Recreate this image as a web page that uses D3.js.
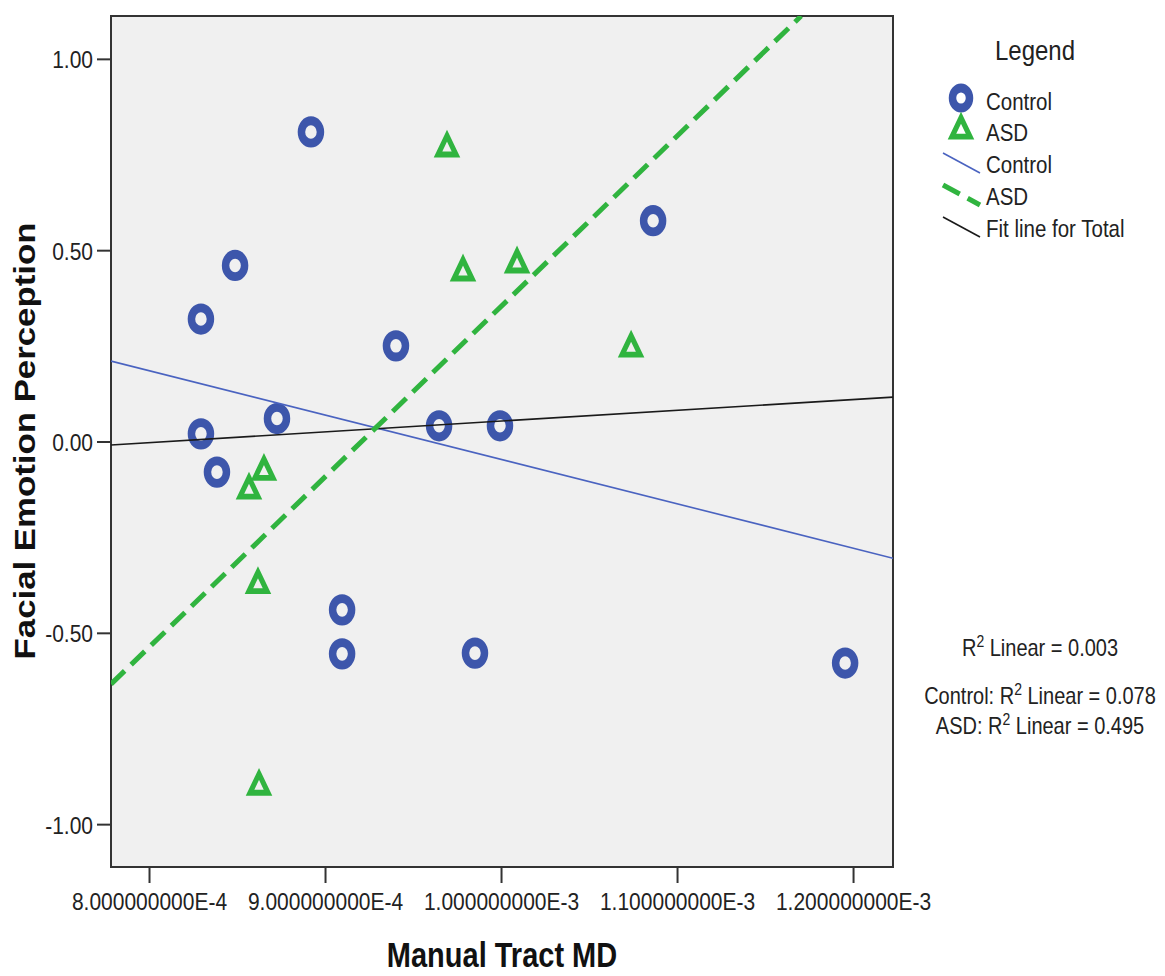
<!DOCTYPE html>
<html lang="en">
  <head>
    <meta charset="UTF-8" />
    <title>Facial Emotion Perception vs Manual Tract MD</title>
    <script src="https://d3js.org/d3.v7.min.js"></script>
    <style>
      body {
        margin: 0;
        background: #fff;
      }
      svg {
        display: block;
        font-family: "Liberation Sans", Arial, sans-serif;
      }
      .tick line {
        stroke: #333;
        stroke-width: 2px;
      }
    </style>
  </head>
  <body>
    <svg width="1165" height="976"></svg>
    <script>
      // Control group (blue circles)
      const controlMD = [
        8.92e-4, 8.489e-4, 8.295e-4, 8.295e-4, 8.727e-4, 8.386e-4, 9.403e-4,
        9.648e-4, 9.994e-4, 10.864e-4, 9.097e-4, 9.097e-4, 9.852e-4, 11.955e-4,
      ];
      const controlFEP = [
        0.809, 0.46, 0.32, 0.02, 0.06, -0.08, 0.25, 0.041, 0.041, 0.577,
        -0.44, -0.555, -0.553, -0.579,
      ];

      // ASD group (green triangles)
      const asdMD = [
        9.693e-4, 9.784e-4, 10.091e-4, 10.739e-4, 8.568e-4, 8.653e-4,
        8.619e-4, 8.625e-4,
      ];
      const asdFEP = [0.77, 0.446, 0.467, 0.247, -0.124, -0.075, -0.371, -0.898];

      // fit lines, two end points each (MD, FEP)
      const fitControl = [
        [7.784e-4, 0.21],
        [12.227e-4, -0.305],
      ];
      const fitASD = [
        [7.784e-4, -0.634],
        [11.705e-4, 1.112],
      ];
      const fitTotal = [
        [7.784e-4, -0.009],
        [12.227e-4, 0.116],
      ];

      const xTicks = [8e-4, 9e-4, 10e-4, 11e-4, 12e-4];
      const xTickLabels = [
        "8.000000000E-4",
        "9.000000000E-4",
        "1.000000000E-3",
        "1.100000000E-3",
        "1.200000000E-3",
      ];
      const yTicks = [-1, -0.5, 0, 0.5, 1];
      const yTickLabels = ["-1.00", "-0.50", "0.00", "0.50", "1.00"];

      const legendItems = ["Control", "ASD", "Control", "ASD", "Fit line for Total"];

      const blue = "#3d56ab";
      const green = "#30b43f";
      const stretch = 1.18; // the source picture is stretched vertically

      const plot = { left: 111, right: 893, top: 16, bottom: 867 };

      const svg = d3.select("svg");

      const x = d3
        .scaleLinear()
        .domain([7.784e-4, 12.227e-4])
        .range([plot.left, plot.right]);

      const y = d3
        .scaleLinear()
        .domain([-1.112, 1.112])
        .range([plot.bottom, plot.top]);

      // plot background + frame
      svg
        .append("rect")
        .attr("x", plot.left)
        .attr("y", plot.top)
        .attr("width", plot.right - plot.left)
        .attr("height", plot.bottom - plot.top)
        .attr("fill", "#f0f0f0")
        .attr("stroke", "#333")
        .attr("stroke-width", 2);

      svg
        .append("defs")
        .append("clipPath")
        .attr("id", "clip")
        .append("rect")
        .attr("x", plot.left)
        .attr("y", plot.top)
        .attr("width", plot.right - plot.left)
        .attr("height", plot.bottom - plot.top);

      // Y axis
      const yAxis = svg
        .append("g")
        .attr("transform", `translate(${plot.left},0)`)
        .call(
          d3
            .axisLeft(y)
            .tickValues(yTicks)
            .tickFormat((d, i) => yTickLabels[i])
            .tickSize(14)
        );
      yAxis.select(".domain").remove();
      yAxis
        .selectAll("text")
        .attr("x", -18)
        .attr("dy", "0.36em")
        .attr("transform", `scale(1,${stretch})`)
        .attr("fill", "#222")
        .style("font-size", "21px");

      // X axis
      const xAxis = svg
        .append("g")
        .attr("transform", `translate(0,${plot.bottom})`)
        .call(
          d3
            .axisBottom(x)
            .tickValues(xTicks)
            .tickFormat((d, i) => xTickLabels[i])
            .tickSize(16)
        );
      xAxis.select(".domain").remove();
      xAxis
        .selectAll("text")
        .attr("y", 43 / stretch)
        .attr("dy", 0)
        .attr("transform", `scale(1,${stretch})`)
        .attr("fill", "#222")
        .style("font-size", "21px");

      // axis titles
      svg
        .append("text")
        .attr("transform", `translate(502,967) scale(1,${stretch})`)
        .attr("text-anchor", "middle")
        .style("font-size", "29px")
        .style("font-weight", "bold")
        .attr("fill", "#111")
        .text("Manual Tract MD");

      svg
        .append("text")
        .attr("transform", `translate(35,441) rotate(-90) scale(${stretch},1)`)
        .attr("text-anchor", "middle")
        .style("font-size", "29.5px")
        .style("font-weight", "bold")
        .attr("fill", "#111")
        .text("Facial Emotion Perception");

      const trianglePath = "M0,-9.5L9,6.5L-9,6.5Z";

      // markers
      svg
        .append("g")
        .selectAll("g")
        .data(controlMD.map((d, i) => [d, controlFEP[i]]))
        .join("g")
        .attr("transform", (d) => `translate(${x(d[0])},${y(d[1])}) scale(1,${stretch})`)
        .append("circle")
        .attr("r", 9.5)
        .attr("fill", "none")
        .attr("stroke", blue)
        .attr("stroke-width", 7.5);

      svg
        .append("g")
        .selectAll("g")
        .data(asdMD.map((d, i) => [d, asdFEP[i]]))
        .join("g")
        .attr("transform", (d) => `translate(${x(d[0])},${y(d[1])}) scale(1,${stretch})`)
        .append("path")
        .attr("d", trianglePath)
        .attr("fill", "none")
        .attr("stroke", green)
        .attr("stroke-width", 5);

      // fit lines
      const line = d3
        .line()
        .x((d) => x(d[0]))
        .y((d) => y(d[1]));

      const lines = svg.append("g").attr("clip-path", "url(#clip)");
      lines
        .append("path")
        .attr("d", line(fitControl))
        .attr("fill", "none")
        .attr("stroke", "#4a63c0")
        .attr("stroke-width", 1.6);
      lines
        .append("path")
        .attr("d", line(fitTotal))
        .attr("fill", "none")
        .attr("stroke", "#1a1a1a")
        .attr("stroke-width", 1.6);
      lines
        .append("path")
        .attr("d", line(fitASD))
        .attr("fill", "none")
        .attr("stroke", green)
        .attr("stroke-width", 5)
        .attr("stroke-dasharray", "19,9");

      // legend
      const legend = svg.append("g");
      legend
        .append("text")
        .attr("transform", `translate(1035,60) scale(1,${stretch})`)
        .attr("text-anchor", "middle")
        .style("font-size", "24px")
        .attr("fill", "#222")
        .text("Legend");

      const rowY = [110, 141, 173, 205, 237];
      legend
        .selectAll(".legend-label")
        .data(legendItems)
        .join("text")
        .attr("class", "legend-label")
        .attr("transform", (d, i) => `translate(986,${rowY[i]}) scale(1,${stretch})`)
        .style("font-size", "20.5px")
        .attr("fill", "#222")
        .text((d) => d);

      legend
        .append("g")
        .attr("transform", `translate(961,98) scale(1,${stretch})`)
        .append("circle")
        .attr("r", 8.5)
        .attr("fill", "none")
        .attr("stroke", blue)
        .attr("stroke-width", 7.5);
      legend
        .append("g")
        .attr("transform", `translate(961,129) scale(1,${stretch})`)
        .append("path")
        .attr("d", trianglePath)
        .attr("fill", "none")
        .attr("stroke", green)
        .attr("stroke-width", 5);

      const legendLines = [
        { color: "#4a63c0", width: 1.6, dash: null },
        { color: green, width: 5, dash: "19,9" },
        { color: "#1a1a1a", width: 1.6, dash: null },
      ];
      legendLines.forEach((s, i) => {
        const yy = rowY[i + 2];
        legend
          .append("line")
          .attr("x1", 943)
          .attr("y1", yy - 20)
          .attr("x2", 980)
          .attr("y2", yy)
          .attr("stroke", s.color)
          .attr("stroke-width", s.width)
          .attr("stroke-dasharray", s.dash);
      });

      // R² annotations
      const rTexts = [
        { pre: "R", post: " Linear = 0.003", yy: 656 },
        { pre: "Control: R", post: " Linear = 0.078", yy: 704 },
        { pre: "ASD: R", post: " Linear = 0.495", yy: 734 },
      ];
      rTexts.forEach((r) => {
        const t = svg
          .append("text")
          .attr("transform", `translate(1040,${r.yy}) scale(1,${stretch})`)
          .attr("text-anchor", "middle")
          .style("font-size", "20px")
          .attr("fill", "#222");
        t.append("tspan").text(r.pre);
        t.append("tspan").attr("dy", -8).style("font-size", "14px").text("2");
        t.append("tspan").attr("dy", 8).text(r.post);
      });
    </script>
  </body>
</html>
